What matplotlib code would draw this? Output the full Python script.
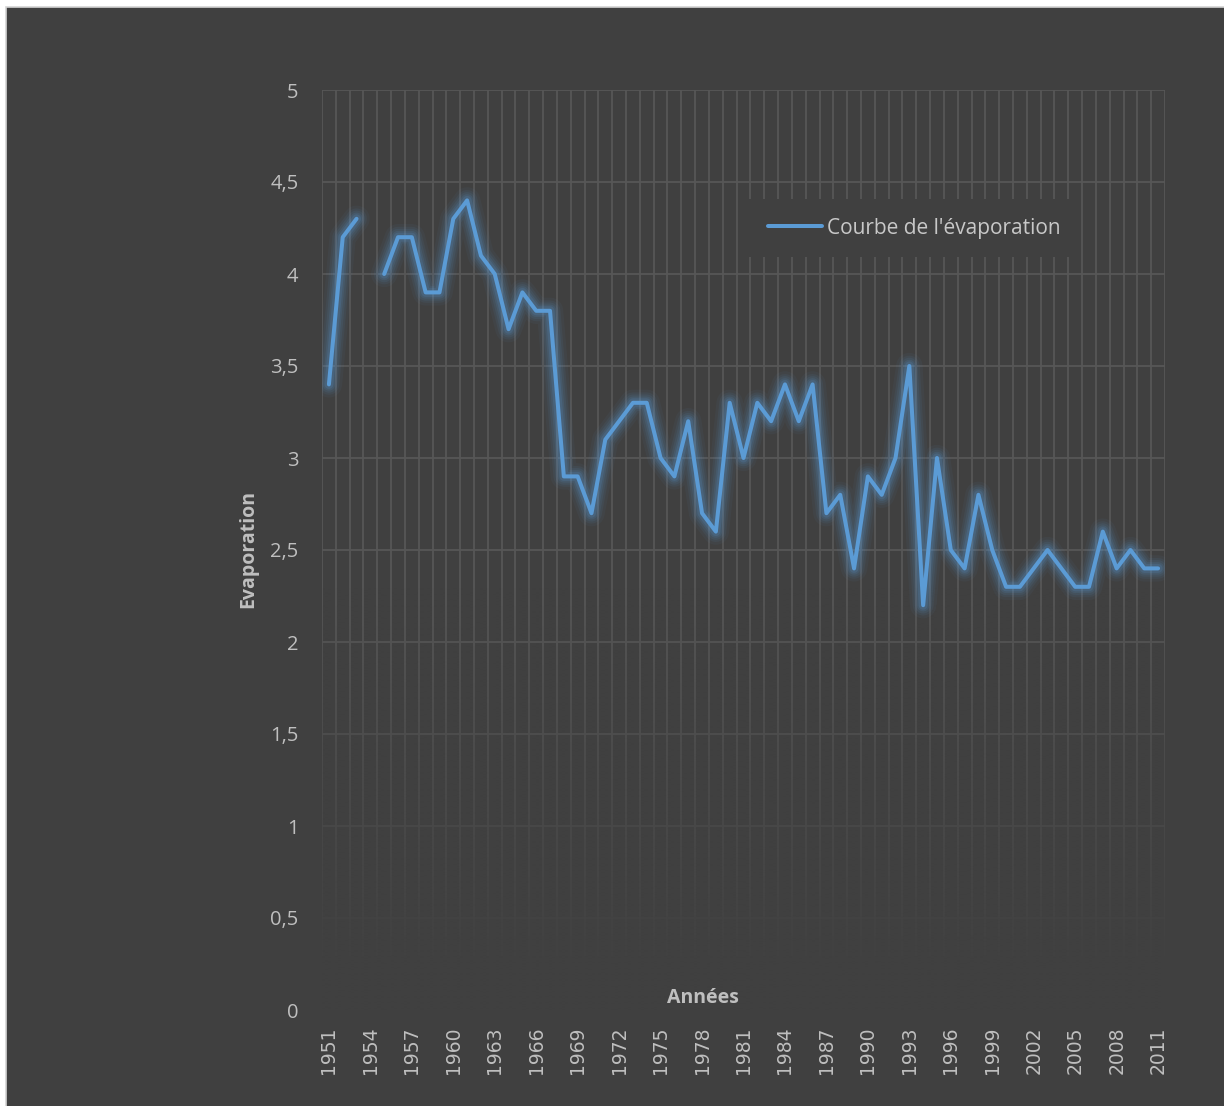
import numpy as np
import matplotlib
matplotlib.use("Agg")
import matplotlib.pyplot as plt
from matplotlib.patches import Rectangle
from matplotlib.ticker import FixedLocator, FuncFormatter

# Annual evaporation series (1954 is missing)
years = list(range(1951, 2012))
evaporation = [
    3.4, 4.2, 4.3, np.nan, 4.0, 4.2, 4.2, 3.9, 3.9, 4.3,   # 1951-1960
    4.4, 4.1, 4.0, 3.7, 3.9, 3.8, 3.8, 2.9, 2.9, 2.7,      # 1961-1970
    3.1, 3.2, 3.3, 3.3, 3.0, 2.9, 3.2, 2.7, 2.6, 3.3,      # 1971-1980
    3.0, 3.3, 3.2, 3.4, 3.2, 3.4, 2.7, 2.8, 2.4, 2.9,      # 1981-1990
    2.8, 3.0, 3.5, 2.2, 3.0, 2.5, 2.4, 2.8, 2.5, 2.3,      # 1991-2000
    2.3, 2.4, 2.5, 2.4, 2.3, 2.3, 2.6, 2.4, 2.5, 2.4,      # 2001-2010
    2.4,                                                   # 2011
]
year_ticks = list(range(1951, 2012, 3))
y_ticks = [0, 0.5, 1, 1.5, 2, 2.5, 3, 3.5, 4, 4.5, 5]

series_label = "Courbe de l'évaporation"
x_title = "Années"
y_title = "Evaporation"

BG = "#404040"
GRID = "#575757"
TEXT = "#BFBFBF"
BLUE = "#5B9BD5"

W, H = 1224, 1106
fig = plt.figure(figsize=(W / 100, H / 100), dpi=100)
fig.patch.set_facecolor("white")
fig.patches.append(Rectangle((6 / W, -0.01), 1.01, 1 - 7 / H + 0.01,
                             transform=fig.transFigure, facecolor=BG,
                             edgecolor="#d4d4d4", linewidth=1.2, zorder=-10))

left, right, top, bottom = 322 / W, 1165 / W, 1 - 90 / H, 1 - 1010 / H
ax = fig.add_axes([left, bottom, right - left, top - bottom])
ax.set_facecolor(BG)
ax.patch.set_alpha(0)
for s in ax.spines.values():
    s.set_visible(False)

ax.set_xlim(years[0] - 0.5, years[-1] + 0.5)
ax.set_ylim(0, 5)

# gridlines: one vertical line between every pair of years
ax.xaxis.set_minor_locator(FixedLocator(np.arange(years[0] - 0.5, years[-1] + 1.0, 1.0)))
ax.set_xticks(year_ticks)
ax.set_yticks(y_ticks)
ax.grid(True, which="minor", axis="x", color=GRID, linewidth=1.3)
ax.grid(True, which="major", axis="y", color=GRID, linewidth=1.3)
ax.grid(False, which="major", axis="x")
ax.set_axisbelow(True)

# fade the grid toward the bottom of the plot area
yy = np.linspace(5, 0, 400)
alpha = np.clip((2.3 - yy) / 2.1, 0, 1)
rgba = np.zeros((400, 1, 4))
rgba[..., :3] = matplotlib.colors.to_rgb(BG)
rgba[:, 0, 3] = alpha
ax.imshow(rgba, extent=[years[0] - 0.5, years[-1] + 0.5, 0, 5],
          aspect="auto", zorder=1, interpolation="bilinear")

# soft glow beneath the main line
for lw, a in [(19, 0.05), (15, 0.07), (12, 0.09), (9, 0.12), (6.5, 0.16)]:
    ax.plot(years, evaporation, color=BLUE, linewidth=lw, alpha=a,
            solid_joinstyle="round", solid_capstyle="round", zorder=2)
ax.plot(years, evaporation, color=BLUE, linewidth=2.9, label=series_label,
        solid_joinstyle="round", solid_capstyle="round", zorder=3)

ax.tick_params(which="both", length=0)
ax.tick_params(axis="y", pad=17, labelsize=14.5, labelcolor=TEXT)
ax.tick_params(axis="x", pad=12, labelsize=13.5, labelcolor=TEXT, rotation=90)
ax.yaxis.set_major_formatter(FuncFormatter(lambda v, p: f"{v:g}".replace(".", ",")))
for lab in ax.get_yticklabels():
    lab.set_fontfamily("Open Sans")
for lab in ax.get_xticklabels():
    lab.set_fontfamily("DejaVu Sans")

fig.text(703 / W, 1 - 998 / H, x_title, ha="center", va="center",
         fontsize=14, fontweight="bold", color=TEXT, family="Open Sans")
fig.text(248 / W, 1 - 549 / H, y_title, ha="center", va="center", rotation=90,
         fontsize=14, fontweight="bold", color=TEXT, family="Open Sans")

leg = ax.legend(loc="center", bbox_to_anchor=(914 / W, 1 - 228 / H),
                bbox_transform=fig.transFigure, frameon=True, fancybox=False,
                prop={"family": "Open Sans", "size": 15}, handlelength=2.6,
                handletextpad=0.25, borderpad=0.9)
leg.get_frame().set_facecolor(BG)
leg.get_frame().set_edgecolor("none")
leg.get_frame().set_alpha(1)
for t in leg.get_texts():
    t.set_color("#C8C8C8")
leg.set_zorder(5)

fig.savefig("out.png", dpi=100, facecolor=fig.get_facecolor())
